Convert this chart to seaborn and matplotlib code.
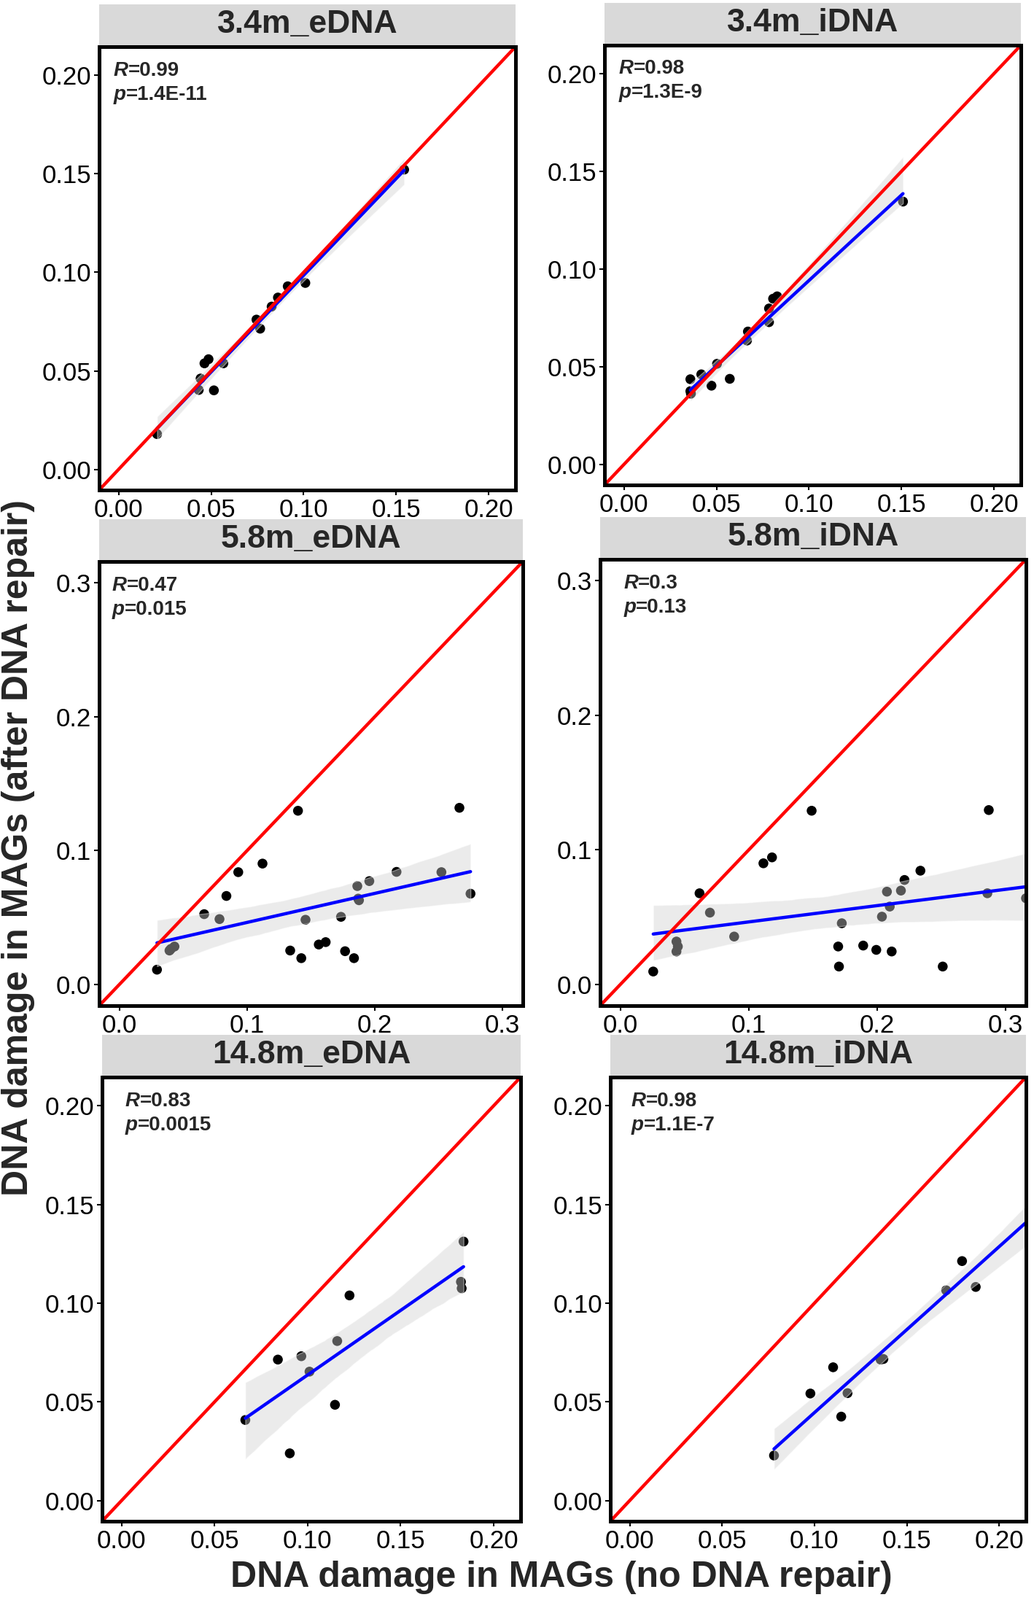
import numpy as np
import matplotlib
matplotlib.use("Agg")
import matplotlib.pyplot as plt
import seaborn as sns
from matplotlib.patches import Rectangle
from matplotlib.ticker import FormatStrFormatter

# panel titles and stats text
panel_titles = ["3.4m_eDNA", "3.4m_iDNA", "5.8m_eDNA", "5.8m_iDNA", "14.8m_eDNA", "14.8m_iDNA"]
r_labels = ["0.99", "0.98", "0.47", "0.3", "0.83", "0.98"]
p_labels = ["1.4E-11", "1.3E-9", "0.015", "0.13", "0.0015", "1.1E-7"]

# DNA damage without repair (x) / after repair (y)
x_34e = [0.0208, 0.0433, 0.0443, 0.0464, 0.0486, 0.0515, 0.0566, 0.0745, 0.0765,
         0.0827, 0.0861, 0.0914, 0.1009, 0.1543]
y_34e = [0.0179, 0.0403, 0.0461, 0.0538, 0.0559, 0.0401, 0.0538, 0.0760, 0.0714,
         0.0826, 0.0872, 0.0929, 0.0946, 0.1521]

x_34i = [0.0359, 0.0359, 0.0362, 0.0418, 0.0473, 0.0503, 0.0572, 0.0670, 0.0665,
         0.0784, 0.0784, 0.0806, 0.0828, 0.1508]
y_34i = [0.0436, 0.0375, 0.0362, 0.0461, 0.0403, 0.0515, 0.0438, 0.0680, 0.0634,
         0.0798, 0.0728, 0.0848, 0.0860, 0.1345]

x_58e = [0.0293, 0.0391, 0.0402, 0.0430, 0.0663, 0.0783, 0.0837, 0.0930, 0.1120,
         0.1337, 0.1398, 0.1424, 0.1457, 0.1561, 0.1615, 0.1735, 0.1767, 0.1837,
         0.1863, 0.1870, 0.1876, 0.1957, 0.2170, 0.2522, 0.2663, 0.2750]
y_58e = [0.0109, 0.0252, 0.0264, 0.0282, 0.0524, 0.0487, 0.0660, 0.0838, 0.0902,
         0.0252, 0.1297, 0.0195, 0.0482, 0.0297, 0.0315, 0.0504, 0.0247, 0.0195,
         0.0734, 0.0640, 0.0628, 0.0771, 0.0840, 0.0838, 0.1319, 0.0677]

x_58i = [0.0254, 0.0435, 0.0446, 0.0435, 0.0615, 0.0696, 0.0885, 0.1113, 0.1180,
         0.1489, 0.1696, 0.1702, 0.1724, 0.1891, 0.1993, 0.2037, 0.2076, 0.2098,
         0.2113, 0.2185, 0.2213, 0.2337, 0.2511, 0.2859, 0.2870, 0.3160]
y_58i = [0.0094, 0.0317, 0.0280, 0.0243, 0.0676, 0.0532, 0.0354, 0.0899, 0.0943,
         0.1290, 0.0280, 0.0131, 0.0453, 0.0287, 0.0255, 0.0502, 0.0688, 0.0577,
         0.0243, 0.0696, 0.0775, 0.0844, 0.0131, 0.0676, 0.1295, 0.0639]

x_148e = [0.0665, 0.0840, 0.0904, 0.0966, 0.1010, 0.1147, 0.1159, 0.1225, 0.1824,
          0.1828, 0.1838]
y_148e = [0.0408, 0.0714, 0.0239, 0.0731, 0.0653, 0.0485, 0.0808, 0.1039, 0.1108,
          0.1075, 0.1312]

x_148i = [0.0781, 0.0978, 0.1101, 0.1145, 0.1179, 0.1358, 0.1373, 0.1713, 0.1799,
          0.1873, 0.2320]
y_148i = [0.0228, 0.0542, 0.0675, 0.0425, 0.0544, 0.0714, 0.0717, 0.1065, 0.1213,
          0.1082, 0.1580]

xs = [x_34e, x_34i, x_58e, x_58i, x_148e, x_148i]
ys = [y_34e, y_34i, y_58e, y_58i, y_148e, y_148i]

ticks_small = [0.0, 0.05, 0.10, 0.15, 0.20]
ticks_big = [0.0, 0.1, 0.2, 0.3]
lim_small = (-0.0105, 0.2145)
lim_big = (-0.016, 0.316)

sns.set_theme(style="ticks")
plt.rcParams['font.family'] = ['Liberation Sans', 'DejaVu Sans']

W, H = 1418, 2194
fig = plt.figure(figsize=(W / 100, H / 100), dpi=100)

# panel boxes in pixels: left, top, right, bottom
boxes = [(136, 64, 707, 672), (829, 62, 1400, 665),
         (136, 770, 717, 1379), (823, 767, 1407, 1379),
         (140, 1477, 714, 2086), (837, 1477, 1407, 2086)]
txt_dx = [0.035, 0.035, 0.03, 0.055, 0.055, 0.05]

for i in range(6):
    l, t, r, b = boxes[i]
    ax = fig.add_axes([l / W, 1 - b / H, (r - l) / W, (b - t) / H])
    big = i in (2, 3)
    lim = lim_big if big else lim_small
    ticks = ticks_big if big else ticks_small

    sns.scatterplot(x=xs[i], y=ys[i], ax=ax, color="black", s=95,
                    edgecolor="none", linewidth=0)
    sns.regplot(x=xs[i], y=ys[i], ax=ax, scatter=False, ci=95, seed=1,
                color="#0000FF", line_kws={"lw": 3.2})
    band = ax.collections[-1]
    band.set_facecolor("#CFCFCF")
    band.set_alpha(0.41)
    ax.axline((0, 0), slope=1, color="#FF0000", lw=3.2)

    ax.set_xlim(lim)
    ax.set_ylim(lim)
    ax.set_xticks(ticks)
    ax.set_yticks(ticks)
    fmt = "%.1f" if big else "%.2f"
    ax.xaxis.set_major_formatter(FormatStrFormatter(fmt))
    ax.yaxis.set_major_formatter(FormatStrFormatter(fmt))
    ax.tick_params(direction="out", length=5, width=1.5, colors="black",
                   labelsize=25, pad=3)
    ax.set_xlabel("")
    ax.set_ylabel("")
    for sp in ax.spines.values():
        sp.set_visible(True)
        sp.set_color("black")
        sp.set_linewidth(3.6)

    # strip on top
    sh = 56 / (b - t)
    ax.add_patch(Rectangle((0, 1.004), 1, sh, transform=ax.transAxes,
                           facecolor="#D9D9D9", edgecolor="none", clip_on=False))
    ax.text(0.5, 1.004 + sh / 2, panel_titles[i], transform=ax.transAxes,
            ha="center", va="center", fontsize=32, fontweight="bold")

    # R and p annotation
    rt = ax.text(txt_dx[i], 0.935, "R", transform=ax.transAxes, fontsize=20,
                 fontweight="bold", fontstyle="italic", va="baseline")
    ax.annotate("=" + r_labels[i], xy=(1, 0), xycoords=rt, fontsize=20,
                fontweight="bold", va="bottom")
    pt = ax.text(txt_dx[i], 0.88, "p", transform=ax.transAxes, fontsize=20,
                 fontweight="bold", fontstyle="italic", va="baseline")
    ax.annotate("=" + p_labels[i], xy=(1, 0), xycoords=pt, fontsize=20,
                fontweight="bold", va="bottom")

fig.text(25 / W, 1 - 1162 / H, "DNA damage in MAGs (after DNA repair)",
         rotation=90, ha="center", va="center", fontsize=36, fontweight="bold")
fig.text(770 / W, 1 - 2163 / H, "DNA damage in MAGs (no DNA repair)",
         ha="center", va="center", fontsize=36, fontweight="bold")

fig.savefig("out.png", dpi=100)
